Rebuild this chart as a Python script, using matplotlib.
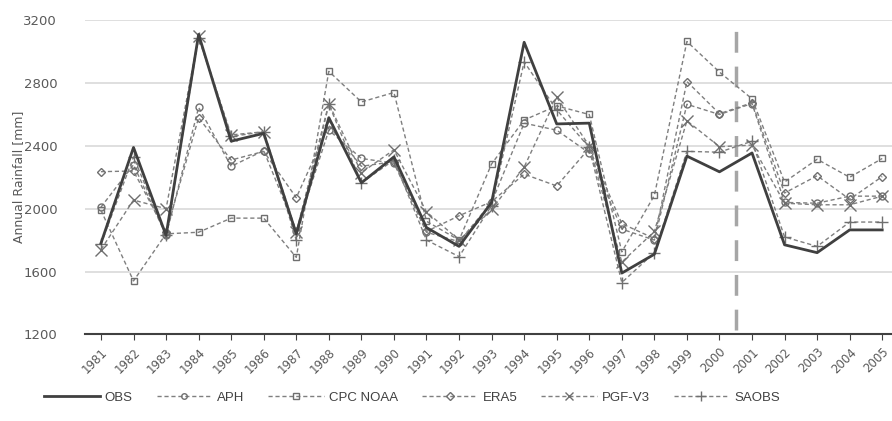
#!/usr/bin/python
""" Annual rainfall: observed vs gridded products """
import matplotlib
matplotlib.use('Agg')
import matplotlib.pyplot as plt

years = list(range(1981, 2006))

obs = [1780, 2390, 1830, 3110, 2430, 2480, 1840, 2580, 2165, 2330, 1880, 1760, 2040,
       3060, 2540, 2545, 1590, 1710, 2335, 2235, 2355, 1770, 1720, 1865, 1865]
aph = [2010, 2280, 1830, 2645, 2270, 2370, 1860, 2500, 2320, 2290, 1850, 1790, 2040,
       2545, 2500, 2355, 1870, 1800, 2665, 2600, 2670, 2040, 2035, 2080, 2080]
cpc = [1990, 1540, 1840, 1850, 1940, 1940, 1690, 2875, 2680, 2740, 1920, 1800, 2285,
       2565, 2655, 2600, 1725, 2085, 3065, 2870, 2700, 2170, 2315, 2200, 2320]
era5 = [2236, 2240, 1850, 2580, 2310, 2365, 2070, 2530, 2270, 2300, 1855, 1955, 2045,
        2220, 2145, 2385, 1905, 1810, 2810, 2605, 2675, 2100, 2210, 2060, 2205]
pgf = [1740, 2055, 2000, 3100, 2470, 2490, 1850, 2670, 2230, 2375, 1980, 1800, 1995,
       2265, 2710, 2400, 1660, 1855, 2560, 2395, 2405, 2035, 2025, 2025, 2080]
saobs = [1775, 2330, 1830, 3090, 2460, 2490, 1800, 2665, 2165, 2310, 1800, 1695, 2020,
         2935, 2630, 2390, 1530, 1720, 2365, 2360, 2430, 1820, 1760, 1915, 1915]

products = [('APH', aph, 'o', 5),
            ('CPC NOAA', cpc, 's', 5),
            ('ERA5', era5, 'D', 4.5),
            ('PGF-V3', pgf, 'x', 8),
            ('SAOBS', saobs, '+', 9)]

SPLIT_YEAR = 2000.5
TEXT_GREY = '#595959'
LINE_GREY = '#7f7f7f'

plt.rcParams['font.family'] = ['DejaVu Sans']

fig = plt.figure(figsize=(8.92, 4.21), dpi=100)
ax = fig.add_axes([0.0953, 0.2059, 0.9047, 0.7459])

ax.plot(years, obs, color='#404040', linewidth=2, label='OBS', zorder=4)
for name, vals, mk, ms in products:
    ax.plot(years, vals, color=LINE_GREY, linewidth=1, dashes=(3, 2),
            marker=mk, markersize=ms, markerfacecolor='none',
            markeredgecolor='#6f6f6f', markeredgewidth=1, label=name,
            clip_on=False, zorder=3)

ax.axvline(SPLIT_YEAR, ymin=0.015, ymax=0.985, color='#a6a6a6', linewidth=2.5,
           dashes=(6, 4), zorder=2)

ax.set_xlim(1980.51, 2005.3)
ax.set_ylim(1200, 3200)
ax.set_yticks([1200, 1600, 2000, 2400, 2800, 3200])
ax.yaxis.grid(True, color='#d9d9d9', linewidth=1.2)
ax.set_axisbelow(True)

for side in ['top', 'right', 'left']:
    ax.spines[side].set_visible(False)
ax.spines['bottom'].set_color('#404040')
ax.spines['bottom'].set_linewidth(1.5)

ax.set_xticks(years)
ax.set_xticklabels([str(y) for y in years], rotation=45, ha='right',
                   rotation_mode='anchor', fontsize=8.5, color=TEXT_GREY)
ax.tick_params(axis='x', direction='out', length=4, color='#404040', pad=4)
ax.tick_params(axis='y', length=0, pad=20, labelsize=9.5, labelcolor=TEXT_GREY)

ax.set_ylabel('Annual Rainfall [mm]', fontsize=9, color=TEXT_GREY)
ax.yaxis.set_label_coords(-0.074, 0.5)

leg = fig.legend(*ax.get_legend_handles_labels(), loc='center',
                 bbox_to_anchor=(0.462, 0.055), ncol=6, frameon=False,
                 prop={'family': ['Liberation Sans', 'DejaVu Sans'], 'size': 9.5},
                 handlelength=4.2, handletextpad=0.4, columnspacing=1.8,
                 markerscale=0.8)
for txt in leg.get_texts():
    txt.set_color('#404040')

fig.savefig('out.png', dpi=100)
